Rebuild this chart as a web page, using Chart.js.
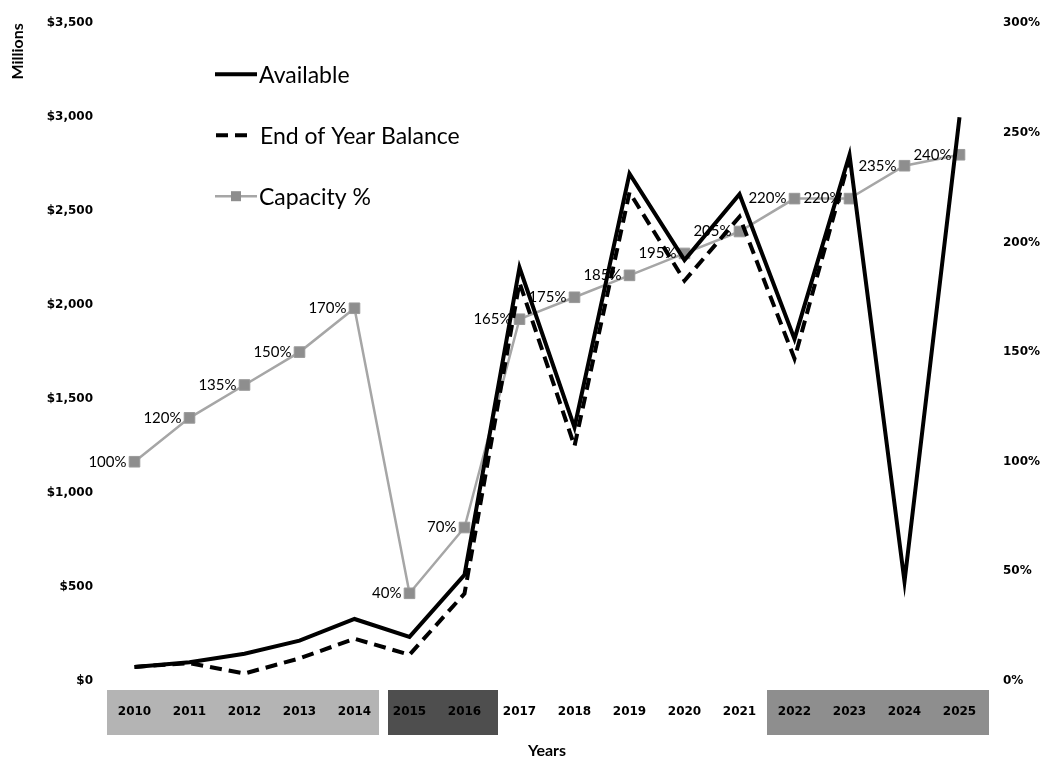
<!DOCTYPE html>
<html><head><meta charset="utf-8">
<script src="https://cdn.jsdelivr.net/npm/chart.js@4/dist/chart.umd.min.js"></script>
<style>html,body{margin:0;padding:0;background:#fff;}#wrap{width:1050px;height:763px;}</style>
</head><body><div id="wrap"><canvas id="c" width="1050" height="763"></canvas></div>
<script>
// ---- data ----
const years = ['2010','2011','2012','2013','2014','2015','2016','2017','2018','2019','2020','2021','2022','2023','2024','2025'];
const available = [75,100,145,215,330,235,565,2200,1350,2700,2240,2590,1820,2800,530,3000];
const endOfYearBalance = [75,95,40,120,225,140,465,2120,1250,2600,2130,2470,1715,2780,null,null];
const capacityPct = [100,120,135,150,170,40,70,165,175,185,195,205,220,220,235,240];
const moneyTickStep = 500, moneyMax = 3500;
const pctTickStep = 50, pctMax = 300;
const highlightGroups = [['2010','2014'],['2015','2016'],['2022','2025']];
const highlightColors = ['#b4b4b4','#4e4e4e','#8e8e8e'];

const FONT_TXT = 'Lato, "Open Sans", sans-serif';
const FONT_TICK = '"DejaVu Sans", Verdana, sans-serif';

const bgBoxes = {
  id:'bgBoxes',
  beforeDraw(chart){
    const x = chart.scales.x, ctx = chart.ctx;
    const half = (x.getPixelForValue(1) - x.getPixelForValue(0)) / 2;
    ctx.save();
    highlightGroups.forEach((g,i)=>{
      const a = x.getPixelForValue(years.indexOf(g[0])) - half + (i === 1 ? 6 : 0);
      const b = x.getPixelForValue(years.indexOf(g[1])) + half + (i === 1 ? 6 : 2) - (i === 0 ? 5 : 0);
      ctx.fillStyle = highlightColors[i];
      ctx.fillRect(a, x.top + 9, b - a, 45);
    });
    ctx.restore();
  }
};

const pointLabels = {
  id:'pointLabels',
  afterDatasetsDraw(chart){
    const ctx = chart.ctx;
    const meta = chart.getDatasetMeta(2);
    ctx.save();
    ctx.font = '15px ' + FONT_TXT;
    ctx.fillStyle = '#000';
    ctx.textAlign = 'right';
    ctx.textBaseline = 'middle';
    meta.data.forEach((p,i)=>{
      ctx.fillText(capacityPct[i] + '%', p.x - 8, p.y);
    });
    ctx.restore();
  }
};

const customLegend = {
  id:'customLegend',
  afterDraw(chart){
    const ctx = chart.ctx, ca = chart.chartArea;
    const x0 = ca.left + 108, y0 = ca.top + 51, gap = 61;
    ctx.save();
    chart.data.datasets.forEach((ds,i)=>{
      const y = y0 + i*gap;
      ctx.strokeStyle = ds.borderColor;
      ctx.lineWidth = ds.borderWidth;
      ctx.setLineDash(ds.borderDash || []);
      ctx.beginPath();
      if (ds.borderDash) { ctx.moveTo(x0+1, y); ctx.lineTo(x0+36, y); }
      else { ctx.moveTo(x0, y); ctx.lineTo(x0+42, y); }
      ctx.stroke();
      ctx.setLineDash([]);
      if (ds.pointRadius) {
        ctx.fillStyle = ds.pointBackgroundColor;
        ctx.fillRect(x0+21-5, y-5, 10, 10);
      }
      ctx.fillStyle = '#000';
      ctx.font = '23px ' + FONT_TXT;
      ctx.textAlign = 'left';
      ctx.textBaseline = 'middle';
      ctx.fillText(ds.label, x0 + (ds.borderDash ? 45 : 44), y + 1);
    });
    ctx.restore();
  }
};

new Chart(document.getElementById('c'), {
  type:'line',
  data:{
    labels: years,
    datasets:[
      {label:'Available', data:available, yAxisID:'y', borderColor:'#000', borderWidth:4, pointRadius:0, tension:0, fill:false},
      {label:'End of Year Balance', data:endOfYearBalance, yAxisID:'y', borderColor:'#000', borderWidth:4, borderDash:[12,7], pointRadius:0, tension:0, fill:false},
      {label:'Capacity %', data:capacityPct, yAxisID:'y1', borderColor:'#a6a6a6', borderWidth:2.5, pointStyle:'rect', pointRadius:7.5, pointBackgroundColor:'#8e8e8e', pointBorderColor:'#9a9a9a', pointBorderWidth:1, tension:0, fill:false}
    ]
  },
  options:{
    responsive:false, animation:false, devicePixelRatio:1,
    layout:{padding:{top:17,left:0,right:0,bottom:0}},
    plugins:{legend:{display:false}, tooltip:{enabled:false}},
    scales:{
      x:{
        type:'category', offset:true,
        grid:{display:false, drawTicks:false}, border:{display:false},
        ticks:{color:'#000', font:{family:FONT_TICK, size:12, weight:'bold'}, padding:24, maxRotation:0, autoSkip:false},
        title:{display:true, text:'Years', color:'#000', font:{family:FONT_TXT, size:16, weight:'bold'}, padding:{top:0,bottom:3}},
        afterFit(s){ s.height = 82; }
      },
      y:{
        position:'left', min:0, max:moneyMax,
        grid:{display:false, drawTicks:false}, border:{display:false},
        ticks:{stepSize:moneyTickStep, color:'#000', padding:14, font:{family:FONT_TICK, size:12, weight:'bold'},
          callback:v=>'$' + v.toLocaleString('en-US')},
        title:{display:true, text:'Millions', align:'end', color:'#000', font:{family:FONT_TXT, size:16, weight:'bold'}, padding:{top:8,bottom:0}},
        afterFit(s){ s.width = 107; }
      },
      y1:{
        position:'right', min:0, max:pctMax,
        grid:{display:false, drawTicks:false}, border:{display:false},
        ticks:{stepSize:pctTickStep, color:'#000', padding:16, font:{family:FONT_TICK, size:12, weight:'bold'},
          callback:v=>v + '%'},
        afterFit(s){ s.width = 63; }
      }
    }
  },
  plugins:[bgBoxes, pointLabels, customLegend]
});
</script>
</body></html>
